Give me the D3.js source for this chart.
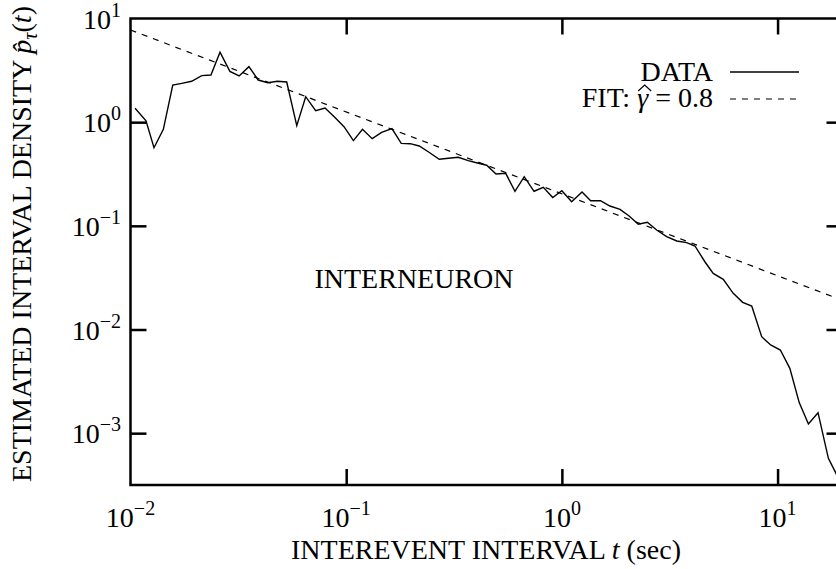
<!DOCTYPE html>
<html>
<head>
<meta charset="utf-8">
<script src="https://cdn.jsdelivr.net/npm/d3@7"></script>
<style>
  html, body { margin: 0; padding: 0; background: #fff; overflow: hidden; }
  svg { display: block; }
  text { font-family: "Liberation Serif", "DejaVu Serif", serif; fill: #000; }
</style>
</head>
<body>
<svg id="chart" width="836" height="569"></svg>
<script>
// ---- data ----
const dataT = [0.0105,0.0118,0.01285,0.0142,0.0157,0.0173,0.0192,0.0214,0.0236,0.0260,
  0.0289,0.0319,0.0354,0.0391,0.0433,0.0480,0.0530,0.0590,0.0649,0.0722,
  0.0798,0.0887,0.0977,0.108,0.119,0.132,0.146,0.163,0.180,0.198,
  0.218,0.243,0.270,0.298,0.331,0.368,0.406,0.448,0.495,0.549,
  0.606,0.669,0.743,0.820,0.907,1.00,1.11,1.24,1.36,1.51,
  1.67,1.86,2.05,2.26,2.49,2.75,3.06,3.41,3.79,4.14,
  4.61,5.03,5.60,6.23,6.89,7.59,8.44,9.29,10.3,11.4,
  12.6,13.9,15.4,17.2,19.0];
const dataP = [1.36,1.03,0.567,0.853,2.28,2.37,2.48,2.81,2.85,4.72,
  3.09,2.79,3.43,2.55,2.40,2.48,2.44,0.925,1.76,1.29,
  1.37,1.11,0.904,0.663,0.853,0.693,0.798,0.865,0.625,0.620,
  0.589,0.510,0.4385,0.448,0.458,0.425,0.404,0.384,0.316,0.321,
  0.2155,0.298,0.2155,0.2354,0.1877,0.2183,0.171,0.212,0.1748,0.1748,
  0.1553,0.1443,0.1245,0.1035,0.1082,0.0912,0.0786,0.0714,0.0688,0.0639,
  0.0448,0.0348,0.0305,0.02235,0.0183,0.01685,0.00852,0.00709,0.00634,0.00422,
  0.00197,0.001226,0.001576,0.000572,0.00038];
const fitT = [0.01, 20];
const fitP = [7.74, 0.0191];
const xTicks = [0.01, 0.1, 1, 10];
const xTickExp = ["−2", "−1", "0", "1"];
const yTicks = [10, 1, 0.1, 0.01, 0.001];
const yTickExp = ["1", "0", "−1", "−2", "−3"];
const xDomain = [0.01, 20];
const yDomain = [Math.pow(10, -3.5), 10];

// ---- layout ----
const L = 130.5, R = 842.5, T = 18.5, B = 485;
const svg = d3.select("#chart");
const x = d3.scaleLog().domain(xDomain).range([L, R]);
const y = d3.scaleLog().domain(yDomain).range([B, T]);

svg.append("defs").append("clipPath").attr("id", "clip")
  .append("rect").attr("x", L).attr("y", T).attr("width", R - L).attr("height", B - T);

// fit line
const line = d3.line().x(d => x(d[0])).y(d => y(d[1]));
svg.append("path")
  .datum(fitT.map((t, i) => [t, fitP[i]]))
  .attr("clip-path", "url(#clip)")
  .attr("d", line)
  .attr("fill", "none").attr("stroke", "#000").attr("stroke-width", 1.2)
  .attr("stroke-dasharray", "6,6");

// data line
svg.append("path")
  .datum(dataT.map((t, i) => [t, dataP[i]]))
  .attr("clip-path", "url(#clip)")
  .attr("d", line)
  .attr("fill", "none").attr("stroke", "#000").attr("stroke-width", 1.4)
  .attr("stroke-linejoin", "miter");

// axes (ticks inward, labels custom)
const tickLen = 16;
const inner = xTicks.filter(v => v > xDomain[0]);
const innerY = yTicks.filter(v => v < yDomain[1]);
function styleAxis(g) {
  g.select(".domain").remove();
  g.selectAll(".tick line").attr("stroke", "#000").attr("stroke-width", 2.5);
  g.selectAll(".tick text").remove();
}
svg.append("g").attr("transform", `translate(0,${B})`)
  .call(d3.axisBottom(x).tickValues(inner).tickSize(-tickLen).tickFormat(""))
  .call(styleAxis);
svg.append("g").attr("transform", `translate(0,${T})`)
  .call(d3.axisTop(x).tickValues(inner).tickSize(-tickLen).tickFormat(""))
  .call(styleAxis);
svg.append("g").attr("transform", `translate(${L},0)`)
  .call(d3.axisLeft(y).tickValues(innerY).tickSize(-tickLen).tickFormat(""))
  .call(styleAxis);
svg.append("g").attr("transform", `translate(${R},0)`)
  .call(d3.axisRight(y).tickValues(innerY).tickSize(-tickLen).tickFormat(""))
  .call(styleAxis);

// frame
svg.append("rect").attr("x", L).attr("y", T).attr("width", R - L).attr("height", B - T)
  .attr("fill", "none").attr("stroke", "#000").attr("stroke-width", 2.5);

// tick labels
xTicks.forEach((v, i) => {
  const t = svg.append("text").attr("x", x(v)).attr("y", 527)
    .attr("text-anchor", "middle").attr("font-size", 28);
  t.append("tspan").text("10");
  t.append("tspan").attr("dy", -12).attr("font-size", 20).text(xTickExp[i]);
});
yTicks.forEach((v, i) => {
  const t = svg.append("text").attr("x", 121).attr("y", y(v) + 10)
    .attr("text-anchor", "end").attr("font-size", 28);
  t.append("tspan").text("10");
  t.append("tspan").attr("dy", -12).attr("font-size", 20).text(yTickExp[i]);
});

// x title
const xt = svg.append("text").attr("x", 486).attr("y", 559)
  .attr("text-anchor", "middle").attr("font-size", 28);
xt.append("tspan").text("INTEREVENT INTERVAL ");
xt.append("tspan").attr("font-style", "italic").text("t");
xt.append("tspan").text(" (sec)");

// y title
const yt = svg.append("text").attr("transform", "translate(31,244) rotate(-90)")
  .attr("text-anchor", "middle").attr("font-size", 28);
yt.append("tspan").text("ESTIMATED INTERVAL DENSITY ");
yt.append("tspan").attr("font-style", "italic").text("p\u0302");
yt.append("tspan").attr("font-style", "italic").attr("font-size", 20).attr("dy", 6).text("τ");
yt.append("tspan").attr("dy", -6).text("(");
yt.append("tspan").attr("font-style", "italic").text("t");
yt.append("tspan").text(")");

// annotation
svg.append("text").attr("x", 414).attr("y", 288).attr("text-anchor", "middle")
  .attr("font-size", 28).text("INTERNEURON");

// legend
svg.append("text").attr("x", 713).attr("y", 81).attr("text-anchor", "end")
  .attr("font-size", 28).text("DATA");
svg.append("line").attr("x1", 730).attr("x2", 799).attr("y1", 72).attr("y2", 72)
  .attr("stroke", "#000").attr("stroke-width", 1.4);
const ft = svg.append("text").attr("x", 713).attr("y", 107).attr("text-anchor", "end")
  .attr("font-size", 28);
ft.append("tspan").text("FIT: ");
ft.append("tspan").attr("font-style", "italic").text("γ");
ft.append("tspan").text(" = 0.8");
// wide hat above gamma
const ext = ft.node().getExtentOfChar(5);
const hx0 = ext.x + 1, hx1 = ext.x + ext.width + 3, hm = (hx0 + hx1) / 2;
svg.append("path")
  .attr("d", `M${hx0},${91} L${hm},${85} L${hx1},${91}`)
  .attr("fill", "none").attr("stroke", "#000").attr("stroke-width", 1.2);
svg.append("line").attr("x1", 730).attr("x2", 799).attr("y1", 99).attr("y2", 99)
  .attr("stroke", "#000").attr("stroke-width", 1.2).attr("stroke-dasharray", "6,6");
</script>
</body>
</html>
